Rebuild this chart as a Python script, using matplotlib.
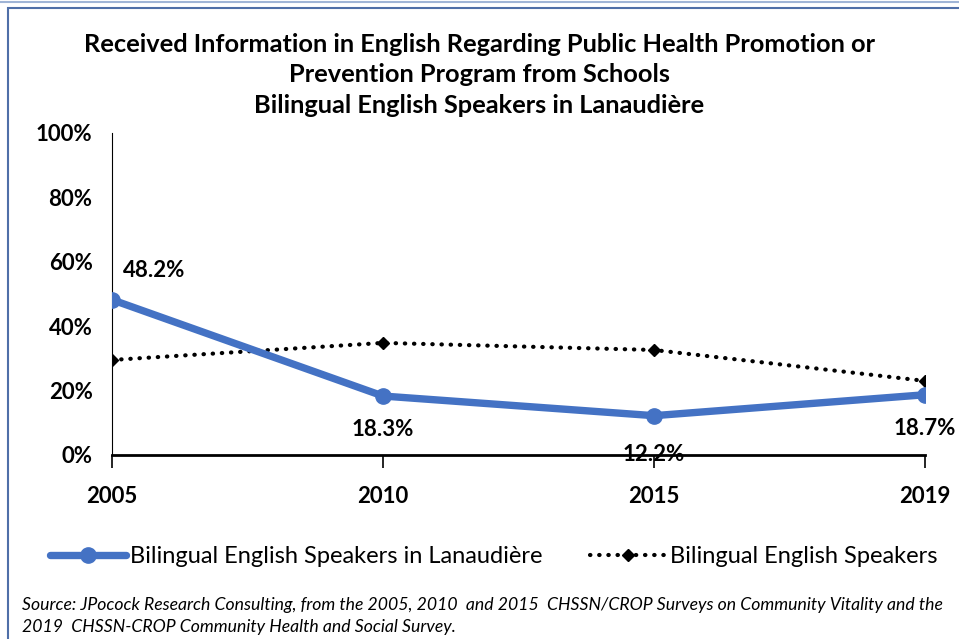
import matplotlib
matplotlib.use("Agg")
import matplotlib.pyplot as plt
from matplotlib.patches import Rectangle
from matplotlib.lines import Line2D

years = ["2005", "2010", "2015", "2019"]
lanaudiere = [48.2, 18.3, 12.2, 18.7]
bilingual = [29.5, 34.8, 32.6, 23.0]
label_text = ["48.2%", "18.3%", "12.2%", "18.7%"]

plt.rcParams["font.family"] = ["Lato", "DejaVu Sans"]

fig = plt.figure(figsize=(9.59, 6.39), dpi=100)
ax = fig.add_axes([0.1168, 0.288, 0.8477, 0.504])

x = list(range(len(years)))
ax.plot(x, lanaudiere, color="#4472C4", lw=5.3, marker="o", ms=11,
        solid_capstyle="round", label="Bilingual English Speakers in Lanaudière", zorder=3)
ax.plot(x, bilingual, color="black", lw=3, linestyle=(0, (0.1, 2.1)),
        dash_capstyle="round", marker="D", ms=6,
        label="Bilingual English Speakers", zorder=2)

# data labels
offsets = [(0.04, 9, "left"), (0, -10.5, "center"), (0, -12, "center"), (0, -10.5, "center")]
for i, (dx, dy, ha) in enumerate(offsets):
    ax.text(x[i] + dx, lanaudiere[i] + dy, label_text[i], ha=ha, va="center",
            fontsize=16, fontweight="bold", clip_on=False)

ax.set_xlim(0, 3)
ax.set_ylim(0, 100)
ax.set_xticks(x)
ax.set_xticklabels(years, fontsize=16, fontweight="bold")
ax.set_yticks([0, 20, 40, 60, 80, 100])
ax.set_yticklabels([f"{v}%" for v in range(0, 101, 20)], fontsize=16, fontweight="bold")
ax.tick_params(axis="y", length=0, pad=14)
ax.tick_params(axis="x", length=9, width=1.2, direction="out", pad=13)
ax.spines["top"].set_visible(False)
ax.spines["right"].set_visible(False)
ax.spines["bottom"].set_linewidth(2)
ax.spines["left"].set_linewidth(0.8)

fig.text(0.5, 0.883, "Received Information in English Regarding Public Health Promotion or\n"
         "Prevention Program from Schools\nBilingual English Speakers in Lanaudière",
         ha="center", va="center", fontsize=18.3, fontweight="bold", linespacing=1.4)

fig.legend(loc="center", bbox_to_anchor=(0.515, 0.129), ncol=2, frameon=False,
           fontsize=17, handlelength=3.2, columnspacing=2.0, handletextpad=0.2)

fig.text(0.023, 0.036, "Source: JPocock Research Consulting, from the 2005, 2010  and 2015  CHSSN/CROP Surveys on Community Vitality and the\n"
         "2019  CHSSN-CROP Community Health and Social Survey.",
         ha="left", va="center", fontsize=12.7, style="italic", linespacing=1.45)

fig.add_artist(Rectangle((0.008, -0.05), 1.1, 1.037, transform=fig.transFigure,
                         fill=False, edgecolor="#4F6FA8", lw=1.5))
fig.add_artist(Line2D([0, 1], [0.997, 0.997], transform=fig.transFigure,
                      color="#9FB4D6", lw=1.5))

fig.savefig("out.png", dpi=100)
